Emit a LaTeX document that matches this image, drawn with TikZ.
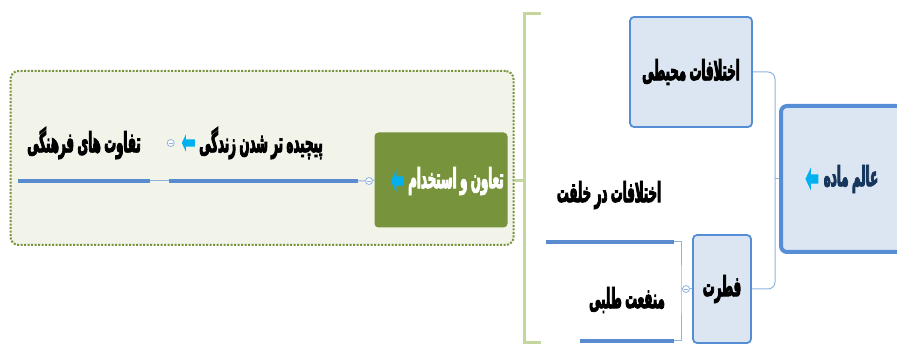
\documentclass[tikz,border=0pt]{standalone}
\usepackage{fontspec}
\usepackage{xcolor}
\usetikzlibrary{positioning,shapes.arrows}
\TeXXeTstate=1
\newfontfamily\farsifont[Script=Arabic,FakeStretch=0.42,WordSpace=0.85,BoldFeatures={FakeBold=3}]{DejaVu Sans}
\definecolor{boxblue}{HTML}{558ED5}
\definecolor{boxfill}{HTML}{DCE6F2}
\definecolor{linkblue}{HTML}{8EB4E3}
\definecolor{stemblue}{HTML}{5A8AD0}
\definecolor{olive}{HTML}{77933C}
\definecolor{panelfill}{HTML}{F2F4EA}
\definecolor{bracketgreen}{HTML}{C3D69B}
\definecolor{arrowcyan}{HTML}{00B0F0}
\definecolor{navytext}{HTML}{17365D}

\begin{document}
\begin{tikzpicture}[x=1pt,y=-1pt,
    every node/.style={font=\farsifont\bfseries\fontsize{28}{30}\selectfont},
    mainbox/.style={draw=boxblue,line width=4pt,fill=boxfill,rounded corners=6pt,
                    minimum width=124pt,minimum height=146pt,inner sep=0pt},
    topic/.style={draw=boxblue,line width=1.8pt,fill=boxfill,rounded corners=4pt,inner sep=0pt},
    coopbox/.style={fill=olive,rounded corners=4pt,minimum width=133pt,minimum height=95pt,inner sep=0pt},
    panel/.style={draw=olive,fill=panelfill,line width=2pt,dash pattern=on 2pt off 1.5pt,
                  rounded corners=8pt,minimum width=503pt,minimum height=174pt,inner sep=0pt},
    lbl/.style={inner sep=1pt},
    tip/.style={single arrow,fill=arrowcyan,shape border rotate=180,inner sep=4.5pt,
                single arrow head extend=7pt,single arrow tip angle=130,minimum height=13pt},
    smalltip/.style={tip,inner sep=3.5pt,single arrow head extend=5pt},
    fold/.style={circle,draw=linkblue,fill=white,line width=0.8pt,minimum size=7pt,inner sep=0pt,
                 path picture={\draw[linkblue,line width=0.6pt]
                   ([xshift=1.6pt]path picture bounding box.west) --
                   ([xshift=-1.6pt]path picture bounding box.east);}},
    link/.style={draw=linkblue,line width=1pt},
    stem/.style={draw=stemblue,line width=4pt},
    bracket/.style={draw=bracketgreen,line width=3pt}]
    \useasboundingbox (0,0) rectangle (897,347);

    % left panel
    \node[panel] (panel) at (262,158) {};
    \node[coopbox] (coop) at (441,180) {};
    \node[lbl,text=white] (coopl) at (456,181) {\beginR تعاون و استخدام\endR};
    \node[tip,left=3pt of coopl] (cooparr) {};
    \node[fold] (fold1) at (369,181) {};
    \coordinate (pichR) at (358,181);
    \coordinate (pichL) at (169,181);
    \coordinate (tafR) at (150,181);
    \coordinate (tafL) at (18,181);
    \node[lbl] (pich) at (261,143) {\beginR پیچیده تر شدن زندگی\endR};
    \node[smalltip,left=3pt of pich] (picharr) {};
    \node[fold,left=7pt of picharr] (fold2) {};
    \node[lbl] (taf) at (84,143) {\beginR تفاوت های فرهنگی\endR};
    \draw[link] (coop.west) -- (fold1) -- (pichR);
    \draw[stem] (pichR) -- (pichL);
    \draw[link] (pichL) -- (tafR);
    \draw[stem] (tafR) -- (tafL);

    % bracket
    \coordinate (brtop) at (541,14);
    \coordinate (brbot) at (541,343);
    \coordinate (brmid) at (524,181);
    \draw[bracket] (brtop) -| (brbot -| brmid) -- (brbot);
    \draw[bracket] (brmid) -- (brmid -| panel.east);

    % right side
    \node[mainbox] (main) at (843,179) {};
    \node[lbl,text=navytext] (mainl) at (851,179) {\beginR عالم ماده\endR};
    \node[tip,left=4pt of mainl] (mainarr) {};
    \node[topic,minimum width=122pt,minimum height=110pt] (env) at (691,72) {\beginR اختلافات محیطی\endR};
    \node[topic,minimum width=58pt,minimum height=108pt] (fitrat) at (722,289) {\beginR فطرت\endR};
    \coordinate (mjoint) at (775,179);
    \draw[link] (main.west) -- (mjoint);
    \draw[link,rounded corners=7pt] (mjoint) |- (env.east);
    \draw[link,rounded corners=7pt] (mjoint) |- (fitrat.east);

    \node[fold] (fold3) at (686,289) {};
    \coordinate (fjoint) at (681,289);
    \coordinate (khR) at (674,242);
    \coordinate (khL) at (546,242);
    \coordinate (mnR) at (674,341);
    \coordinate (mnL) at (580,341);
    \node[lbl] (khelqat) at (609,195) {\beginR اختلافات در خلقت\endR};
    \node[lbl] (manfaat) at (627,300) {\beginR منفعت طلبی\endR};
    \draw[link] (fitrat.west) -- (fold3) -- (fjoint);
    \draw[link] (khR) -| (fjoint) |- (mnR);
    \draw[stem] (khR) -- (khL);
    \draw[stem] (mnR) -- (mnL);
\end{tikzpicture}
\end{document}
